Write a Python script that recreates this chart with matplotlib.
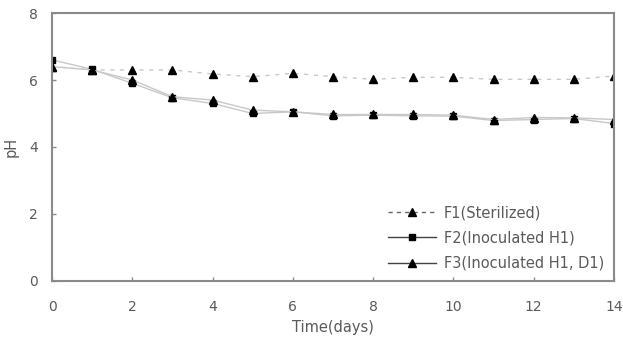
import matplotlib
matplotlib.use("Agg")
import matplotlib.pyplot as plt
from matplotlib.lines import Line2D

days = list(range(15))
f1 = [6.40, 6.30, 6.30, 6.30, 6.18, 6.10, 6.20, 6.10, 6.02, 6.08, 6.08, 6.02, 6.02, 6.02, 6.12]
f2 = [6.60, 6.32, 5.90, 5.47, 5.30, 5.00, 5.05, 4.93, 4.95, 4.93, 4.92, 4.79, 4.82, 4.85, 4.70]
f3 = [6.40, 6.30, 6.00, 5.50, 5.40, 5.10, 5.05, 4.97, 4.97, 4.97, 4.95, 4.82, 4.88, 4.87, 4.82]
labels = ["F1(Sterilized)", "F2(Inoculated H1)", "F3(Inoculated H1, D1)"]

tc = "#5a5a5a"
sc = "#8a8a8a"
lc = "#c8c8c8"

fig = plt.figure(figsize=(6.23, 3.43), dpi=100)
ax = fig.add_axes([0.0835, 0.181, 0.902, 0.781])

ax.plot(days, f1, ls=(0, (3, 4)), color=lc, lw=1.0, marker="^", mfc="black", mec="black", ms=5.5)
ax.plot(days, f2, ls="-", color=lc, lw=1.0, marker="s", mfc="black", mec="black", ms=5)
ax.plot(days, f3, ls="-", color=lc, lw=1.0, marker="^", mfc="black", mec="black", ms=5.5)

ax.set_xlim(0, 14)
ax.set_ylim(0, 8)
ax.set_xticks(range(0, 15, 2))
ax.set_yticks(range(0, 9, 2))
for s in ax.spines.values():
    s.set_color(sc)
    s.set_linewidth(1.5)
ax.tick_params(direction="in", length=3, width=1, color=sc, labelcolor=tc, labelsize=10)
ax.tick_params(axis="x", pad=14)
ax.tick_params(axis="y", pad=10)
ax.set_xlabel("Time(days)", color=tc, fontsize=10.5, labelpad=4)
ax.set_ylabel("pH", color=tc, fontsize=10.5, labelpad=8)

handles = [
    Line2D([], [], ls=(0, (3, 3)), color="#666666", lw=1.0, marker="^", mfc="black", mec="black", ms=5.5),
    Line2D([], [], ls="-", color="#444444", lw=1.0, marker="s", mfc="black", mec="black", ms=5),
    Line2D([], [], ls="-", color="#444444", lw=1.0, marker="^", mfc="black", mec="black", ms=5.5),
]
leg = ax.legend(handles, labels, loc="lower right", frameon=False, fontsize=10.5,
                handlelength=3.3, handletextpad=0.5, labelspacing=0.7,
                borderaxespad=0.3, bbox_to_anchor=(1.0, 0.0))
for t in leg.get_texts():
    t.set_color(tc)

fig.savefig("out.png", dpi=100)
